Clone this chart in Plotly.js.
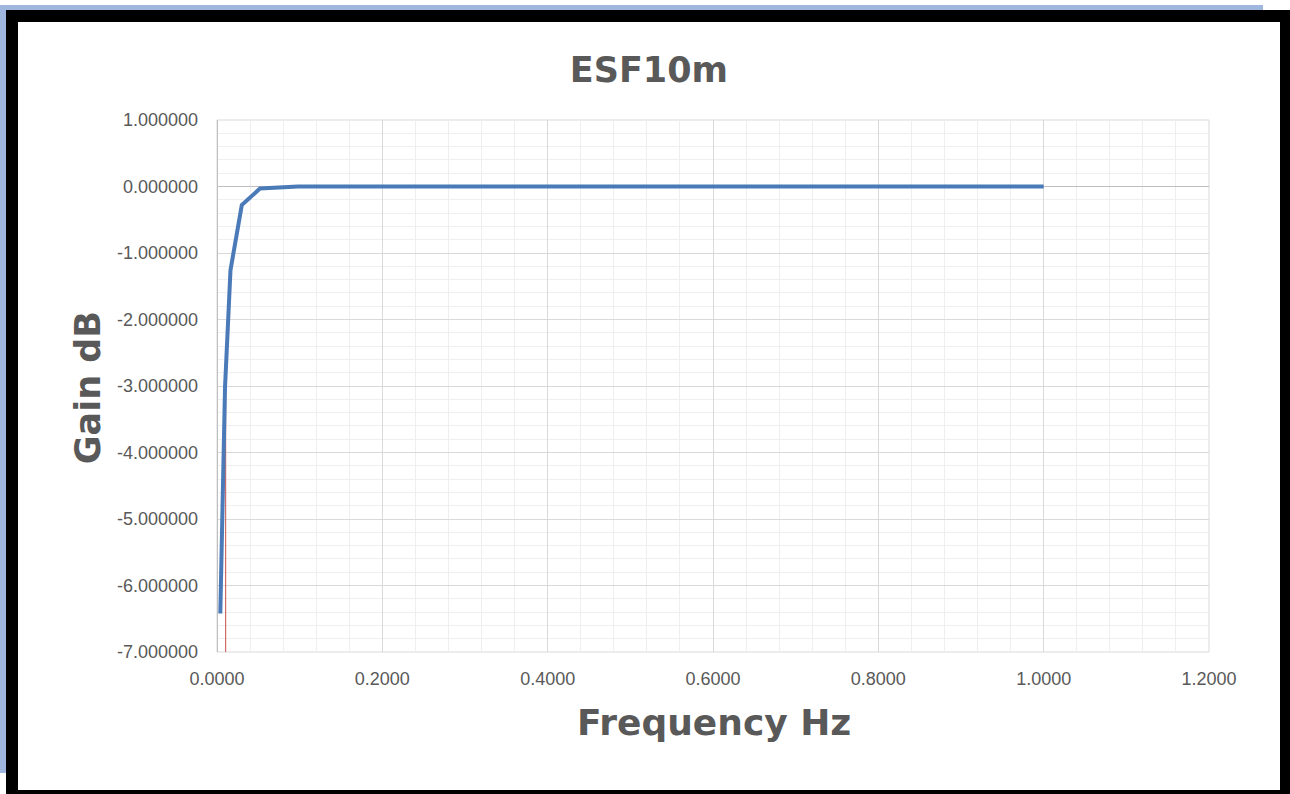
<!DOCTYPE html>
<html>
<head>
<meta charset="utf-8">
<script src="https://cdn.plot.ly/plotly-3.0.1.min.js"></script>
<style>
  html, body { margin: 0; padding: 0; background: #ffffff; }
  #wrap { position: relative; width: 1290px; height: 794px; overflow: hidden; background: #ffffff; }
  #chart { position: absolute; left: 0; top: 0; width: 1290px; height: 794px; }
  .fr { position: absolute; pointer-events: none; z-index: 10; }
</style>
</head>
<body>
<div id="wrap">
  <div id="chart"></div>
  <div class="fr" style="left:0;top:5px;width:1263px;height:5px;background:#9fb6df;"></div>
  <div class="fr" style="left:0;top:5px;width:6px;height:768px;background:#9fb6df;"></div>
  <div class="fr" style="left:6px;top:10px;width:1284px;height:12px;background:#000;"></div>
  <div class="fr" style="left:6px;top:10px;width:12px;height:784px;background:#000;"></div>
  <div class="fr" style="left:1280px;top:10px;width:10px;height:784px;background:#000;"></div>
  <div class="fr" style="left:6px;top:790px;width:1284px;height:4px;background:#000;"></div>
</div>
<script>
// Data
const frequencyHz = [0.004, 0.0097, 0.0163, 0.030, 0.052, 0.098, 0.2, 0.3, 0.4, 0.5, 0.6, 0.7, 0.8, 0.9, 1.0];
const gainDb      = [-6.42, -3.02, -1.26, -0.28, -0.03, 0.0, 0.0, 0.0, 0.0, 0.0, 0.0, 0.0, 0.0, 0.0, 0.0];
const markerX = [0.0105, 0.0105];
const markerY = [-7.0, -3.0];

// Tick labels
const yTickVals = [1, 0, -1, -2, -3, -4, -5, -6, -7];
const yTickText = ['1.000000', '0.000000', '-1.000000', '-2.000000', '-3.000000',
                   '-4.000000', '-5.000000', '-6.000000', '-7.000000'];
const xTickVals = [0, 0.2, 0.4, 0.6, 0.8, 1.0, 1.2];
const xTickText = ['0.0000', '0.2000', '0.4000', '0.6000', '0.8000', '1.0000', '1.2000'];

const chartTitle = 'ESF10m';
const xTitle = 'Frequency Hz';
const yTitle = 'Gain dB';

const grey = '#595959';
const boldFont = 'DejaVu Sans, Verdana, sans-serif';
const tickFont = {family: 'Liberation Sans, Arial, sans-serif', size: 18, color: grey};

const traces = [
  {x: markerX, y: markerY, type: 'scatter', mode: 'lines',
   line: {color: '#c0504d', width: 1}, hoverinfo: 'skip', showlegend: false},
  {x: frequencyHz, y: gainDb, type: 'scatter', mode: 'lines',
   line: {color: '#4a7ab8', width: 4}, showlegend: false}
];

const layout = {
  width: 1290, height: 794,
  paper_bgcolor: '#ffffff', plot_bgcolor: '#ffffff',
  margin: {l: 217, r: 81, t: 120, b: 142, pad: 0},
  title: {text: chartTitle, font: {family: boldFont, size: 35, color: grey, weight: 'bold'},
          xref: 'container', yref: 'container', x: 0.503, y: 1 - 70/794,
          xanchor: 'center', yanchor: 'middle'},
  xaxis: {range: [0, 1.2], tickmode: 'array', tickvals: xTickVals, ticktext: xTickText,
          showgrid: true, gridcolor: '#d9d9d9', gridwidth: 1,
          minor: {dtick: 0.04, tick0: 0, showgrid: true, gridcolor: '#efefef', gridwidth: 1},
          zeroline: true, zerolinecolor: '#bfbfbf', zerolinewidth: 1,
          showline: false, ticks: '', ticklabelstandoff: 14,
          tickfont: tickFont, fixedrange: true},
  yaxis: {range: [-7, 1], tickmode: 'array', tickvals: yTickVals, ticktext: yTickText,
          showgrid: true, gridcolor: '#d9d9d9', gridwidth: 1,
          minor: {dtick: 0.2, tick0: 0, showgrid: true, gridcolor: '#efefef', gridwidth: 1},
          zeroline: true, zerolinecolor: '#bfbfbf', zerolinewidth: 1.5,
          showline: false, ticks: '', ticklabelstandoff: 18,
          tickfont: tickFont, fixedrange: true},
  shapes: [
    {type: 'rect', xref: 'paper', yref: 'paper', x0: 0, x1: 1, y0: 0, y1: 1,
     line: {color: '#d9d9d9', width: 1}, layer: 'below'}
  ],
  annotations: [
    {text: xTitle, xref: 'paper', yref: 'paper', x: 0.501, y: -0.1316,
     xanchor: 'center', yanchor: 'middle', showarrow: false,
     font: {family: boldFont, size: 36, color: grey, weight: 'bold'}},
    {text: yTitle, xref: 'paper', yref: 'paper', x: -0.13, y: 0.496, textangle: -90,
     xanchor: 'center', yanchor: 'middle', showarrow: false,
     font: {family: boldFont, size: 35, color: grey, weight: 'bold'}}
  ]
};

Plotly.newPlot('chart', traces, layout, {displayModeBar: false, staticPlot: true});
</script>
</body>
</html>
